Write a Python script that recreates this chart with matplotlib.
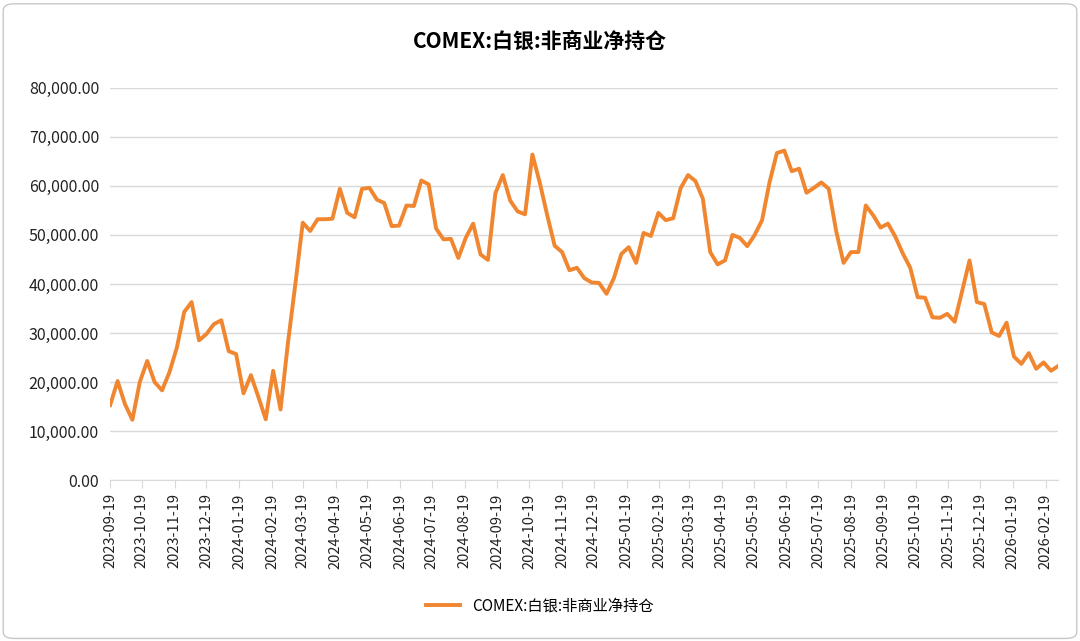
import matplotlib
matplotlib.use("Agg")
import matplotlib.pyplot as plt
import matplotlib.dates as mdates
from matplotlib.ticker import FuncFormatter
from matplotlib.patches import FancyBboxPatch
import pandas as pd

plt.rcParams['font.family'] = ['Noto Sans CJK SC', 'DejaVu Sans']

start_date = "2023-09-19"
values = [15300, 20200, 15500, 12300, 20000, 24300, 20000, 18300, 22000, 27000,
          34300, 36300, 28500, 29800, 31800, 32600, 26300, 25700, 17700, 21400,
          17000, 12400, 22300, 14400, 28000, 40000, 52500, 50800, 53200, 53200,
          53300, 59400, 54500, 53600, 59400, 59600, 57200, 56500, 51800, 51900,
          56000, 55900, 61100, 60300, 51300, 49100, 49200, 45300, 49400, 52300,
          46000, 44900, 58500, 62200, 57000, 54800, 54200, 66400, 60600, 54000,
          47800, 46500, 42800, 43300, 41200, 40300, 40200, 38000, 41200, 46100,
          47500, 44300, 50400, 49800, 54500, 53000, 53400, 59500, 62200, 61000,
          57400, 46500, 44000, 44800, 50000, 49400, 47700, 50000, 53000, 60700,
          66700, 67200, 63000, 63500, 58600, 59600, 60700, 59400, 50800, 44300,
          46500, 46500, 56000, 54000, 51500, 52300, 49600, 46200, 43300, 37300,
          37200, 33200, 33100, 33900, 32300, 38500, 44800, 36300, 35900, 30100,
          29400, 32100, 25200, 23700, 25900, 22700, 24000, 22300, 23300]
dates = pd.date_range(start_date, periods=len(values), freq="7D")
tick_dates = pd.date_range("2023-09-01", "2026-02-19", freq="MS") + pd.Timedelta(days=18)
series_name = "COMEX:白银:非商业净持仓"

fig = plt.figure(figsize=(10.8, 6.41), dpi=100)
fig.patches.append(FancyBboxPatch((0.003, 0.004), 0.994, 0.99, boxstyle="round,pad=0,rounding_size=0.01",
                                  transform=fig.transFigure, fill=False, ec="#c8c8c8", lw=1))
ax = fig.add_axes([0.102, 0.251, 0.878, 0.612])
ax.plot(dates, values, color="#F0862F", lw=2.8, label=series_name)
ax.set_xlim(dates[0], dates[-1])
ax.set_ylim(0, 80000)
ax.set_yticks(range(0, 80001, 10000))
ax.yaxis.set_major_formatter(FuncFormatter(lambda v, p: f"{v:,.2f}"))
ax.set_xticks(tick_dates)
ax.xaxis.set_major_formatter(mdates.DateFormatter("%Y-%m-%d"))
plt.setp(ax.get_xticklabels(), rotation=90)
ax.tick_params(axis='y', length=0, labelsize=11.5, pad=8, labelcolor="#222222")
ax.tick_params(axis='x', length=6, color="#d9d9d9", labelsize=10.5, labelcolor="#222222")
ax.grid(axis='y', color="#d9d9d9", lw=1)
for s in ['top', 'right', 'left']:
    ax.spines[s].set_visible(False)
ax.spines['bottom'].set_color("#d9d9d9")
ax.set_axisbelow(True)
fig.text(0.5, 0.935, series_name, ha='center', va='center', fontsize=15, fontweight='bold')
fig.legend(loc='center', bbox_to_anchor=(0.5, 0.055), frameon=False, fontsize=11, handlelength=2.2)
fig.savefig("out.png", dpi=100)
